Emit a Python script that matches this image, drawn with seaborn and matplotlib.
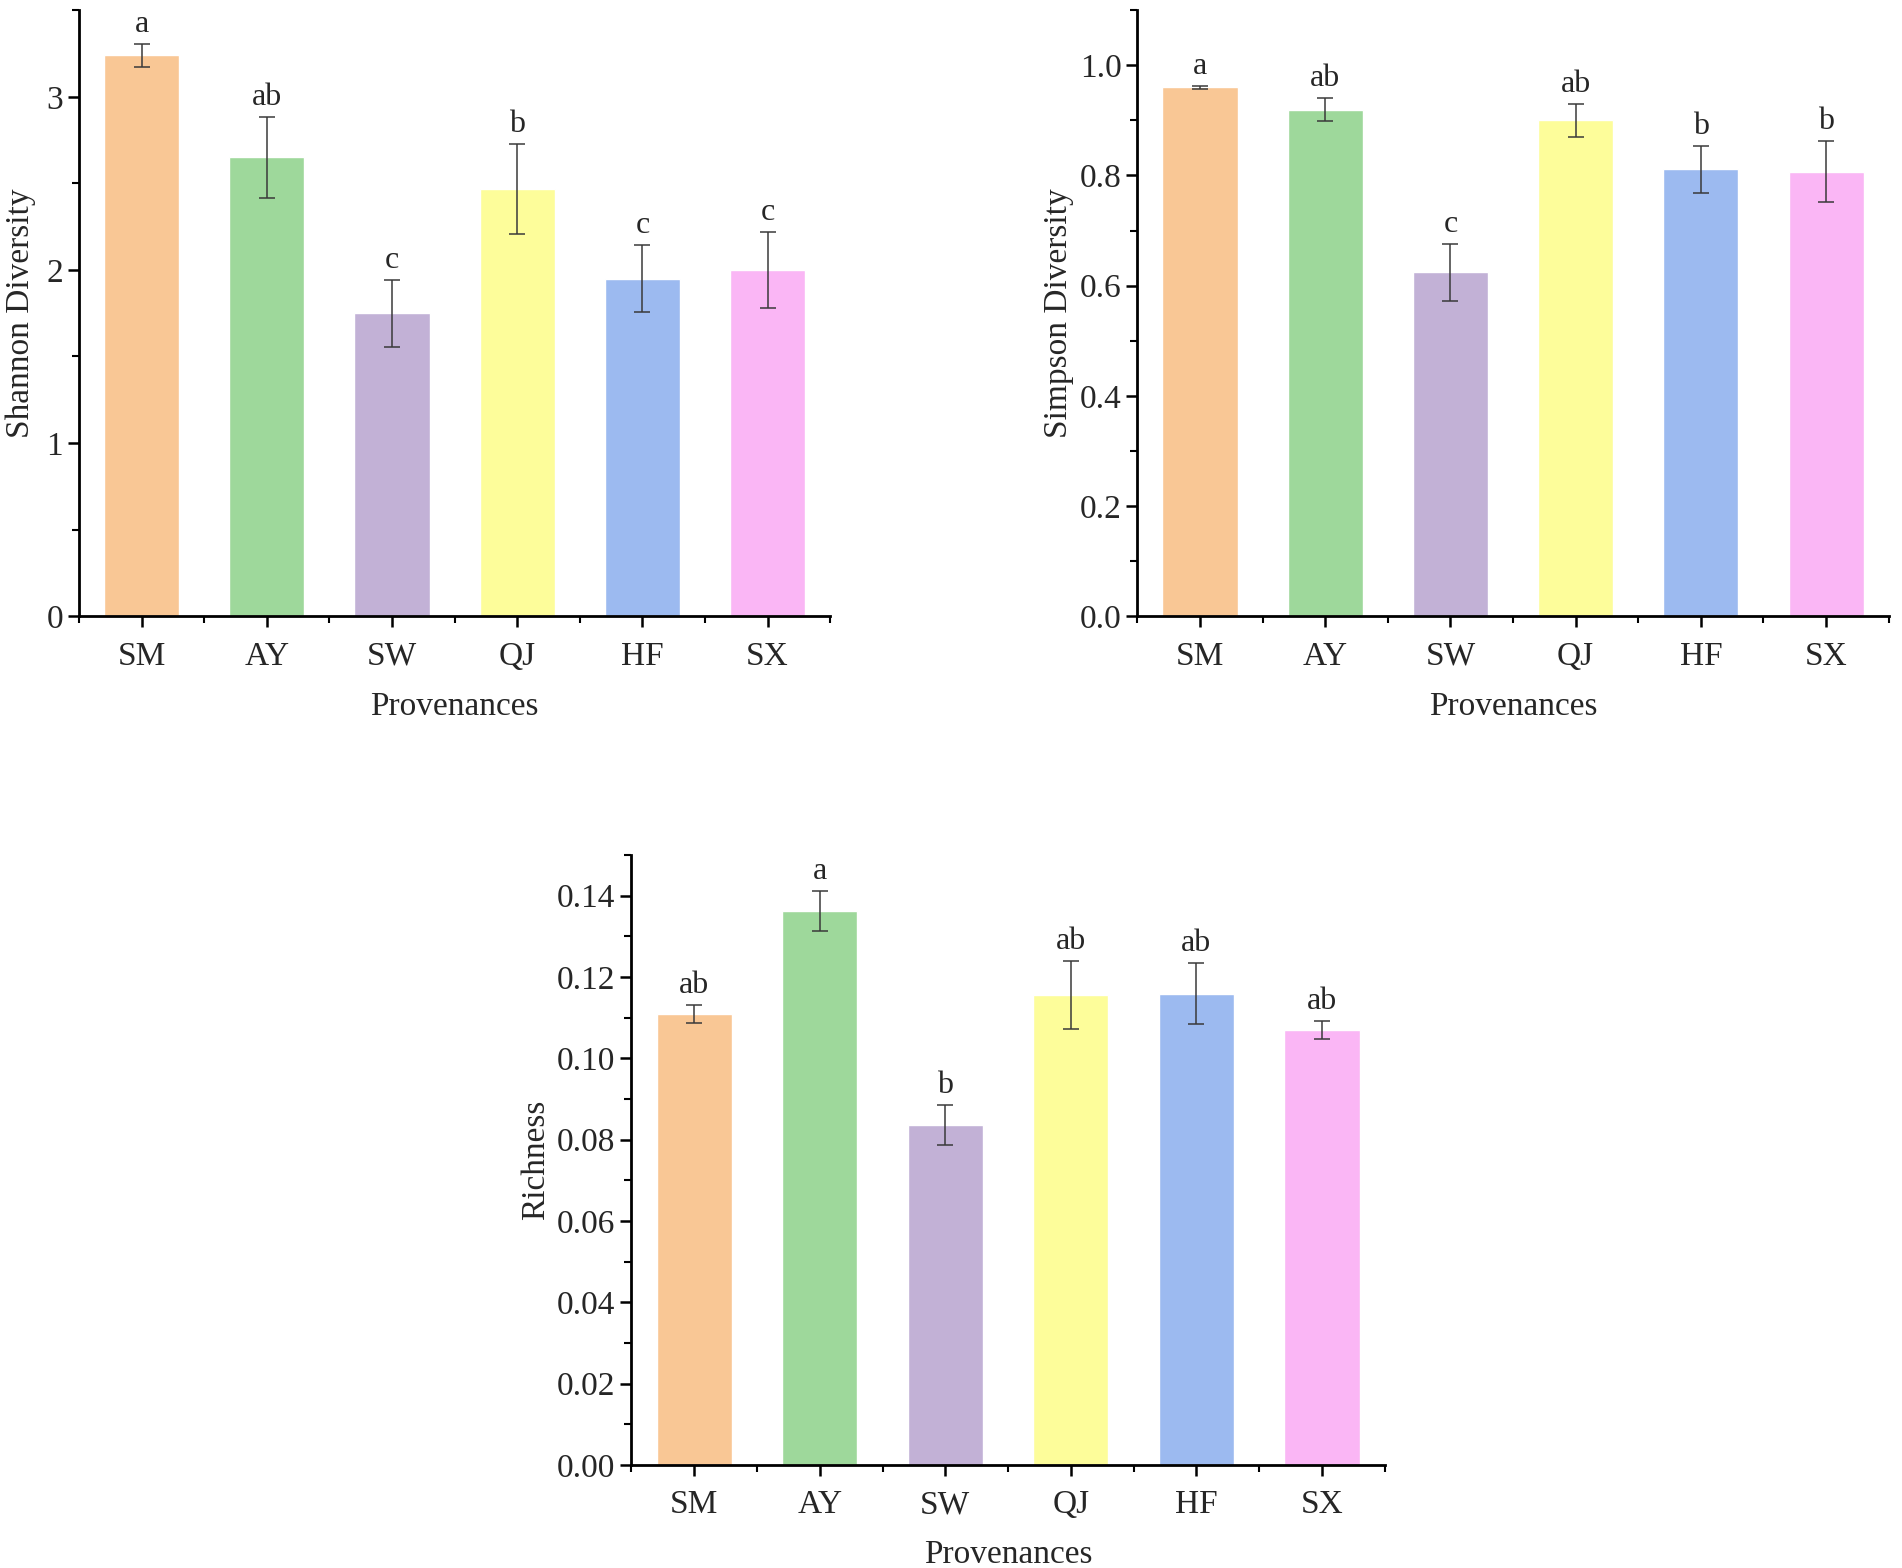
import matplotlib
matplotlib.use("Agg")
import matplotlib.pyplot as plt
from matplotlib.ticker import MultipleLocator
import seaborn as sns
import pandas as pd

sites = ["SM", "AY", "SW", "QJ", "HF", "SX"]
colors = ["#F9C795", "#9ED89B", "#C2B1D6", "#FDFD9A", "#9CBAF0", "#FAB6F5"]

shannon = [3.24, 2.65, 1.75, 2.47, 1.95, 2.00]
shannon_err = [0.067, 0.234, 0.193, 0.26, 0.195, 0.218]
shannon_sig = ["a", "ab", "c", "b", "c", "c"]

simpson = [0.960, 0.919, 0.624, 0.900, 0.811, 0.807]
simpson_err = [0.003, 0.021, 0.052, 0.030, 0.042, 0.056]
simpson_sig = ["a", "ab", "c", "ab", "b", "b"]

richness = [0.1109, 0.1362, 0.0836, 0.1155, 0.1159, 0.1070]
richness_err = [0.0022, 0.0050, 0.0049, 0.0084, 0.0075, 0.0023]
richness_sig = ["ab", "a", "b", "ab", "ab", "ab"]

sns.set_style("ticks")
plt.rcParams['font.family'] = ['Liberation Serif', 'DejaVu Serif']

fig = plt.figure(figsize=(19.02, 15.68), dpi=100)


def panel(rect, vals, errs, sig, ylabel, ymax, major, minor, fmt, pad):
    ax = fig.add_axes(rect)
    df = pd.DataFrame({"site": sites, "val": vals})
    sns.barplot(data=df, x="site", y="val", hue="site", palette=colors,
                width=0.6, errorbar=None, legend=False, ax=ax, saturation=1)
    ax.errorbar(range(len(sites)), vals, yerr=errs, fmt="none",
                ecolor="#3a3a3a", elinewidth=1.1, capsize=6, capthick=1.1)
    for i, (v, e, s) in enumerate(zip(vals, errs, sig)):
        ax.text(i, v + e + ymax * 0.008, s, ha="center", va="bottom", fontsize=23)
    ax.set_xlim(-0.5, 5.5)
    ax.set_ylim(0, ymax)
    ax.yaxis.set_major_locator(MultipleLocator(major))
    ax.yaxis.set_minor_locator(MultipleLocator(minor))
    ax.set_xticks([x + 0.5 for x in range(-1, 6)], minor=True)
    ax.yaxis.set_major_formatter(plt.FormatStrFormatter(fmt))
    for sp in ["top", "right"]:
        ax.spines[sp].set_visible(False)
    for sp in ["left", "bottom"]:
        ax.spines[sp].set_linewidth(2)
        ax.spines[sp].set_color("black")
    ax.tick_params(axis="both", which="major", direction="out", length=8,
                   width=1.8, labelsize=24, color="black")
    ax.tick_params(axis="both", which="minor", direction="out", length=5,
                   width=1.5, color="black")
    ax.tick_params(axis="x", pad=10)
    ax.set_xlabel("Provenances", fontsize=24, labelpad=14)
    ax.set_ylabel(ylabel, fontsize=24, labelpad=pad)
    return ax


panel([0.0415, 0.607, 0.395, 0.3865], shannon, shannon_err, shannon_sig,
      "Shannon Diversity", 3.5, 1, 0.5, "%d", 7)
panel([0.598, 0.607, 0.395, 0.3865], simpson, simpson_err, simpson_sig,
      "Simpson Diversity", 1.1, 0.2, 0.1, "%.1f", 4)
panel([0.332, 0.0657, 0.396, 0.389], richness, richness_err, richness_sig,
      "Richness", 0.15, 0.02, 0.01, "%.2f", 4)

fig.savefig("out.png", dpi=100, facecolor="white")
